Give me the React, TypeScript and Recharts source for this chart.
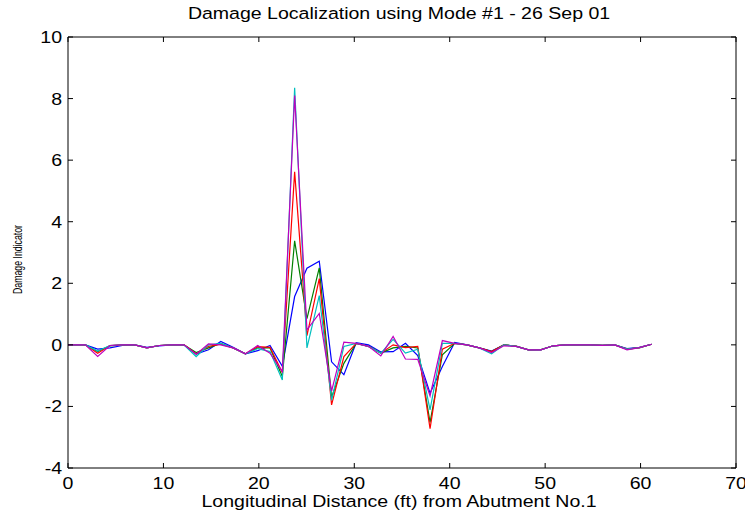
import { Label, Line, LineChart, XAxis, YAxis } from "recharts";

// longitudinal stations (ft)
const stations = [
  0, 1.82, 3.11, 4.4, 5.69, 6.98, 8.27, 9.56, 10.85, 12.14, 13.43, 14.72, 16.01, 17.3, 18.59, 19.88,
  21.17, 22.46, 23.75, 25.04, 26.33, 27.62, 28.91, 30.2, 31.49, 32.78, 34.07, 35.36, 36.65, 37.94,
  39.23, 40.52, 41.81, 43.1, 44.39, 45.68, 46.97, 48.26, 49.55, 50.84, 52.13, 53.42, 54.71, 56.0,
  57.29, 58.58, 59.87, 61.16,
];

// damage indicator, one array per trace (MATLAB colour order b, g, r, c, m)
const traceB = [
  0, 0, -0.14, -0.1, -0.02, 0, -0.08, -0.03, 0, 0, -0.3, -0.16, 0.11, -0.08, -0.29, -0.19,
  -0.02, -0.7, 1.57, 2.49, 2.72, -0.55, -0.97, 0.07, 0, -0.23, -0.22, 0.05, -0.35, -1.57,
  -0.7, 0.08, 0, -0.1, -0.2, 0, -0.05, -0.16, -0.16, -0.03, 0, 0, 0, -0.02,
  0, -0.12, -0.08, 0.02,
];
const traceG = [
  0, 0, -0.22, -0.03, 0, 0, -0.1, -0.02, 0, 0, -0.25, -0.1, 0.05, -0.1, -0.29, -0.1,
  -0.1, -1.03, 3.38, 0.85, 2.5, -1.7, -0.6, 0.05, -0.05, -0.27, -0.1, -0.05, -0.1, -2.52,
  -0.32, 0.05, 0, -0.1, -0.22, 0, -0.04, -0.16, -0.15, -0.03, 0, 0, 0, -0.02,
  0, -0.14, -0.1, 0.02,
];
const traceR = [
  0, 0, -0.27, -0.02, 0, 0, -0.1, -0.02, 0, 0.01, -0.3, -0.05, 0.02, -0.1, -0.29, -0.06,
  -0.08, -0.9, 5.62, 0.3, 2.15, -1.95, -0.38, 0.05, -0.05, -0.27, 0, -0.09, -0.05, -2.72,
  -0.14, 0.05, 0, -0.1, -0.22, 0, -0.05, -0.16, -0.16, -0.03, 0, 0, 0, -0.02,
  0, -0.14, -0.09, 0.02,
];
const traceC = [
  0, 0, -0.2, -0.02, 0, 0, -0.1, -0.02, 0, 0, -0.38, 0, 0.05, -0.1, -0.29, -0.12,
  -0.22, -1.14, 8.35, -0.1, 1.6, -1.8, -0.05, 0.05, -0.05, -0.27, 0.18, -0.27, -0.14, -2.11,
  0.05, 0.05, 0, -0.1, -0.29, 0, -0.05, -0.16, -0.16, -0.03, 0, 0, 0, -0.02,
  0, -0.14, -0.09, 0.02,
];
const traceM = [
  0, 0, -0.38, -0.02, 0, 0, -0.1, -0.02, 0, 0, -0.3, 0.03, 0, -0.1, -0.29, -0.02,
  -0.27, -0.87, 8.1, 0.49, 1.02, -1.5, 0.09, 0.05, -0.05, -0.36, 0.27, -0.46, -0.47, -1.66,
  0.14, 0.05, 0, -0.1, -0.25, -0.03, -0.05, -0.16, -0.16, -0.03, 0, 0, 0, -0.02,
  0, -0.16, -0.09, 0.02,
];

const xTicks = [0, 10, 20, 30, 40, 50, 60, 70];
const yTicks = [-4, -2, 0, 2, 4, 6, 8, 10];

const series = [
  { key: "b", color: "#0000ff", values: traceB },
  { key: "g", color: "#008000", values: traceG },
  { key: "r", color: "#ff0000", values: traceR },
  { key: "c", color: "#00bfbf", values: traceC },
  { key: "m", color: "#bf00bf", values: traceM },
];

const rows = stations.map((x, i) => {
  const row: Record<string, number> = { x };
  series.forEach((s) => (row[s.key] = s.values[i]));
  return row;
});

const FONT = "'Liberation Sans', Arial, Helvetica, sans-serif";
const FS = 17;
const STRETCH = 1.15; // the old figure export has slightly wide lettering
const TICK_LEN = 5;
const TICK_GAP = 5;

function Txt({ x, y, anchor = "middle", size = FS, children }: any) {
  return (
    <text
      transform={`translate(${x},${y}) scale(${STRETCH},1)`}
      textAnchor={anchor}
      fontSize={size}
      fontFamily={FONT}
      fill="#000"
    >
      {children}
    </text>
  );
}

// MATLAB-style inward ticks: the label sits outside, the tick mark points into the box
function BottomTick({ x, y, payload }: any) {
  const axisY = y - TICK_GAP;
  return (
    <g>
      <line x1={x} x2={x} y1={axisY} y2={axisY - TICK_LEN} stroke="#000" />
      <Txt x={x} y={axisY + 21}>{payload.value}</Txt>
    </g>
  );
}

function LeftTick({ x, y, payload }: any) {
  const axisX = x + TICK_GAP;
  return (
    <g>
      <line x1={axisX} x2={axisX + TICK_LEN} y1={y} y2={y} stroke="#000" />
      <Txt x={x - 1} y={y + 6} anchor="end">{payload.value}</Txt>
    </g>
  );
}

function TopTick({ x, y }: any) {
  return <line x1={x} x2={x} y1={y} y2={y + TICK_LEN} stroke="#000" />;
}

function RightTick({ x, y }: any) {
  return <line x1={x} x2={x - TICK_LEN} y1={y} y2={y} stroke="#000" />;
}

function TitleLabel({ viewBox }: any) {
  return (
    <Txt x={viewBox.x + viewBox.width / 2 - 3} y={viewBox.y + 19}>
      Damage Localization using Mode #1 - 26 Sep 01
    </Txt>
  );
}

function XTitle({ viewBox }: any) {
  return (
    <Txt x={viewBox.x + viewBox.width / 2 - 3} y={viewBox.y + 39}>
      Longitudinal Distance (ft) from Abutment No.1
    </Txt>
  );
}

// rotated label is squeezed along its length in the original export
function YTitle({ viewBox }: any) {
  const cx = 22;
  const cy = viewBox.y + viewBox.height / 2 + 7;
  return (
    <text
      transform={`translate(${cx},${cy}) rotate(-90) scale(0.7,1)`}
      textAnchor="middle"
      fontSize={12.5}
      fontFamily={FONT}
      fill="#000"
    >
      Damage Indicator
    </text>
  );
}

export default function App() {
  return (
    <div style={{ position: "absolute", left: 0, top: 0, width: 745, height: 516, background: "#fff" }}>
      <LineChart width={745} height={516} data={rows} margin={{ top: 0, right: 0, bottom: 0, left: 0 }}>
        <XAxis
          xAxisId="bottom"
          dataKey="x"
          type="number"
          domain={[0, 70]}
          ticks={xTicks}
          allowDataOverflow
          height={48}
          tickSize={0}
          tickMargin={TICK_GAP}
          tickLine={false}
          axisLine={{ stroke: "#000" }}
          tick={<BottomTick />}
        >
          <Label content={<XTitle />} />
        </XAxis>
        <XAxis
          xAxisId="top"
          orientation="top"
          dataKey="x"
          type="number"
          domain={[0, 70]}
          ticks={xTicks}
          allowDataOverflow
          height={37}
          tickSize={0}
          tickMargin={0}
          tickLine={false}
          axisLine={{ stroke: "#000" }}
          tick={<TopTick />}
        >
          <Label content={<TitleLabel />} />
        </XAxis>
        <YAxis
          yAxisId="left"
          type="number"
          domain={[-4, 10]}
          ticks={yTicks}
          allowDataOverflow
          width={68}
          tickSize={0}
          tickMargin={TICK_GAP}
          tickLine={false}
          axisLine={{ stroke: "#000" }}
          tick={<LeftTick />}
        >
          <Label content={<YTitle />} />
        </YAxis>
        <YAxis
          yAxisId="right"
          orientation="right"
          type="number"
          domain={[-4, 10]}
          ticks={yTicks}
          allowDataOverflow
          width={9}
          tickSize={0}
          tickMargin={0}
          tickLine={false}
          axisLine={{ stroke: "#000" }}
          tick={<RightTick />}
        />
        {series.map((s) => (
          <Line
            key={s.key}
            xAxisId="bottom"
            yAxisId="left"
            type="linear"
            dataKey={s.key}
            stroke={s.color}
            strokeWidth={1.2}
            dot={false}
            activeDot={false}
            isAnimationActive={false}
          />
        ))}
      </LineChart>
    </div>
  );
}
